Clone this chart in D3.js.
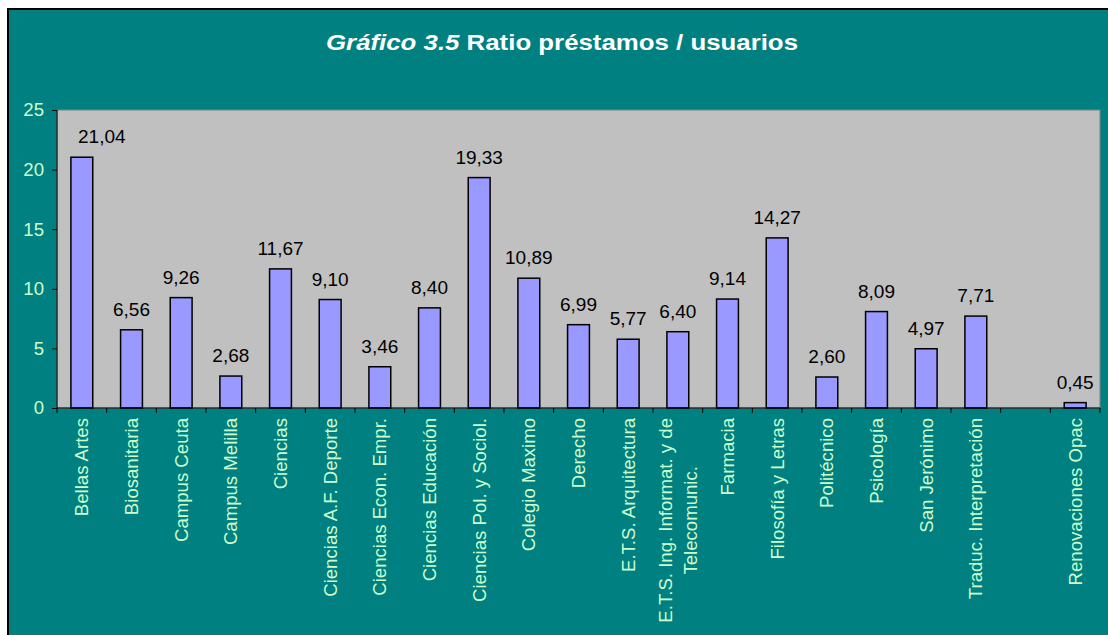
<!DOCTYPE html>
<style>
body {
  margin: 0;
  background: #fff;
}
text {
  font-family: Arial, "Liberation Sans", sans-serif;
}
.frame {
  fill: #008080;
  stroke: #000;
  stroke-width: 2;
}
.plot {
  fill: #c0c0c0;
  stroke: #808080;
  stroke-width: 1;
}
.bar {
  fill: #9999ff;
  stroke: #000;
  stroke-width: 1.5;
}
.axis path, .axis line {
  stroke: #000;
}
.tickLabel {
  fill: #ccffcc;
  font-size: 18.6px;
}
.valueLabel {
  fill: #000;
  font-size: 19px;
}
.title {
  fill: #fff;
  font-size: 22px;
  font-weight: bold;
}
</style>
<svg width="1108" height="635"></svg>
<script src="https://d3js.org/d3.v7.min.js"></script>
<script>

var categories = [
  "Bellas Artes", "Biosanitaria", "Campus Ceuta", "Campus Melilla", "Ciencias",
  "Ciencias A.F. Deporte", "Ciencias Econ. Empr.", "Ciencias Educación",
  "Ciencias Pol. y Sociol.", "Colegio Maximo", "Derecho", "E.T.S. Arquitectura",
  "E.T.S. Ing. Informat. y de\nTelecomunic.", "Farmacia", "Filosofía y Letras",
  "Politécnico", "Psicología", "San Jerónimo", "Traduc. Interpretación", "",
  "Renovaciones Opac"
];
var ratios = [21.04, 6.56, 9.26, 2.68, 11.67, 9.10, 3.46, 8.40, 19.33, 10.89, 6.99,
  5.77, 6.40, 9.14, 14.27, 2.60, 8.09, 4.97, 7.71, null, 0.45];
var yTicks = [0, 5, 10, 15, 20, 25];

var svg = d3.select("svg"),
    plot = { left: 57, top: 110, right: 1100, bottom: 408 },
    fmt = v => v.toFixed(2).replace(".", ",");

svg.append("rect")
  .attr("class", "frame")
  .attr("x", 8).attr("y", 9)
  .attr("width", 1120).attr("height", 640);

svg.append("text")
  .attr("class", "title")
  .attr("x", 326).attr("y", 50)
  .attr("textLength", 472)
  .attr("lengthAdjust", "spacingAndGlyphs")
  .call(t => {
    t.append("tspan").attr("font-style", "italic").text("Gráfico 3.5");
    t.append("tspan").text(" Ratio préstamos / usuarios");
  });

var x = d3.scaleBand()
  .domain(d3.range(categories.length))
  .range([plot.left, plot.right])
  .paddingInner(0.56)
  .paddingOuter(0.28);

var y = d3.scaleLinear()
  .domain([0, 25])
  .range([plot.bottom, plot.top]);

svg.append("rect")
  .attr("class", "plot")
  .attr("x", plot.left).attr("y", plot.top)
  .attr("width", plot.right - plot.left)
  .attr("height", plot.bottom - plot.top);

var data = ratios.map((v, i) => ({ i: i, v: v })).filter(d => d.v != null);

svg.selectAll(".bar")
  .data(data)
  .enter().append("rect")
  .attr("class", "bar")
  .attr("x", d => x(d.i))
  .attr("y", d => y(d.v))
  .attr("width", x.bandwidth())
  .attr("height", d => y(0) - y(d.v));

// first label sits a bit to the right in the original
svg.selectAll(".valueLabel")
  .data(data)
  .enter().append("text")
  .attr("class", "valueLabel")
  .attr("text-anchor", "middle")
  .attr("x", d => x(d.i) + x.bandwidth() / 2 + (d.i === 0 ? 20 : 0))
  .attr("y", d => y(d.v) - 14)
  .text(d => fmt(d.v));

// y axis
var yAxis = svg.append("g")
  .attr("class", "axis")
  .attr("transform", `translate(${plot.left},0)`)
  .call(d3.axisLeft(y).tickValues(yTicks).tickSize(5).tickFormat(d3.format("d")));
yAxis.select(".domain").attr("d", `M0,${plot.top}V${plot.bottom}`);
yAxis.selectAll("text")
  .attr("class", "tickLabel")
  .attr("x", -13)
  .attr("font-family", null).attr("font-size", null)
  .attr("fill", null);

// x axis: line plus ticks at category boundaries
var xAxis = svg.append("g").attr("class", "axis");
xAxis.append("line")
  .attr("x1", plot.left).attr("x2", plot.right)
  .attr("y1", plot.bottom).attr("y2", plot.bottom);
xAxis.selectAll(".xtick")
  .data(d3.range(categories.length + 1))
  .enter().append("line")
  .attr("x1", i => x.step() * i + plot.left)
  .attr("x2", i => x.step() * i + plot.left)
  .attr("y1", plot.bottom).attr("y2", plot.bottom + 5);

// rotated category labels, lines centered within block anchored under axis
var labelTop = 418;
var groups = svg.selectAll(".catLabel")
  .data(categories)
  .enter().append("g")
  .attr("class", "catLabel");

groups.each(function (name, i) {
  var lines = name.split("\n"),
      g = d3.select(this),
      cx = x(i) + x.bandwidth() / 2,
      lh = 25;
  var texts = lines.map((ln, k) => g.append("text")
    .attr("class", "tickLabel")
    .attr("text-anchor", "middle")
    .text(ln));
  var w = d3.max(texts, t => t.node().getComputedTextLength()) || 0;
  texts.forEach((t, k) => {
    var lx = cx + (k - (lines.length - 1) / 2) * lh;
    t.attr("transform", `translate(${lx},${labelTop + w / 2}) rotate(-90)`)
      .attr("dy", "0.35em");
  });
});
</script>
